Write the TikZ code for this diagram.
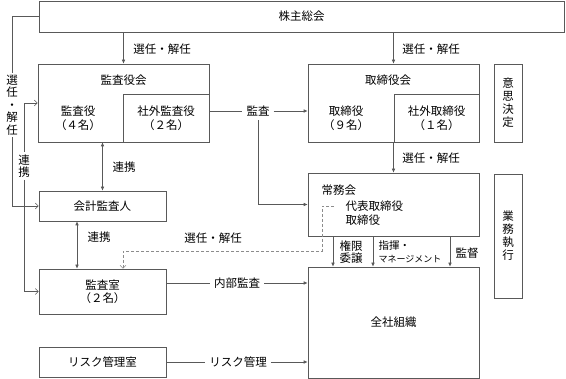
\documentclass[tikz,border=0pt]{standalone}
\usepackage{fontspec}
\newfontfamily\jpfont{Noto Sans CJK JP}
\usetikzlibrary{arrows.meta}
\colorlet{linecol}{black!65}
\tikzset{
  every node/.style={font=\jpfont\fontsize{11.5}{13.5}\selectfont, align=center},
  box/.style={draw=linecol, line width=0.6pt, inner sep=0pt},
  vlabel/.style={font=\jpfont\fontsize{11.5}{12.5}\selectfont, inner sep=2pt},
  hlabel/.style={inner sep=4pt},
  conn/.style={draw=linecol, line width=0.6pt},
  arr/.style={conn, -{Latex[length=4pt,width=3.5pt]}},
  biarr/.style={conn, {Latex[length=4pt,width=3.5pt]}-{Latex[length=4pt,width=3.5pt]}},
  oarr/.style={conn, -{Straight Barb[length=3pt,width=6pt]}},
  darr/.style={draw=black!45, line width=0.6pt, dash pattern=on 3pt off 2pt, -{Straight Barb[length=3pt,width=6pt]}}
}
\begin{document}
\begin{tikzpicture}[x=1pt, y=-1pt]
  \useasboundingbox (0,0) rectangle (566,379);

  % top
  \node[box, minimum width=525pt, minimum height=31pt] (soukai) at (301.5,16.5) {株主総会};

  % board of auditors
  \node[box, minimum width=171pt, minimum height=78pt] (kansakai) at (123.5,103) {};
  \node (kansakaiT) at (123.5,80) {監査役会};
  \node[box, minimum width=86pt, minimum height=48pt] (shagaikansa) at (166,118) {社外監査役\\（２名）};
  \node (kansayaku) at (78,118) {監査役\\（４名）};

  % board of directors
  \node[box, minimum width=171pt, minimum height=78pt] (torikai) at (393.5,103) {};
  \node (torikaiT) at (388,80) {取締役会};
  \node[box, minimum width=85pt, minimum height=48pt] (shagaitori) at (436.5,118) {社外取締役\\（１名）};
  \node (torishimari) at (346,118) {取締役\\（９名）};

  \node[box, vlabel, font=\jpfont\fontsize{11.5}{13}\selectfont, minimum width=28pt, minimum height=78pt] (ishi) at (508,103) {意\\思\\決\\定};

  % executive committee
  \node[box, minimum width=171pt, minimum height=63pt] (joumukai) at (393.5,204.5) {};
  \node[anchor=west] (joumukaiT) at (318,190) {常務会};
  \node[anchor=west, align=left] (joumukaiM) at (342,213) {代表取締役\\取締役};

  \node[box, vlabel, font=\jpfont\fontsize{11.5}{13}\selectfont, minimum width=28pt, minimum height=124pt] (gyomu) at (508,236) {業\\務\\執\\行};

  \node[box, minimum width=171pt, minimum height=111pt] (zensha) at (393.5,322.5) {全社組織};

  % left column
  \node[box, minimum width=127pt, minimum height=30pt] (kaikei) at (102.5,206) {会計監査人};
  \node[box, minimum width=127pt, minimum height=45pt] (kansashitsu) at (102.5,291.5) {監査室\\（２名）};
  \node[box, minimum width=127pt, minimum height=30pt] (risk) at (102.5,362) {リスク管理室};

  % labels
  \node (senninA) at (162,49) {選任・解任};
  \node (senninB) at (431,49) {選任・解任};
  \node (senninC) at (431,158) {選任・解任};
  \node (senninD) at (213,238) {選任・解任};
  \node (renkeiA) at (124,167) {連携};
  \node (renkeiB) at (99,237) {連携};
  \node[anchor=west, align=left, font=\jpfont\fontsize{11.5}{12.5}\selectfont] (kengen) at (336,252) {権限\\委譲};
  \node[anchor=west, align=left, font=\jpfont\fontsize{10.5}{12.5}\selectfont] (shiki) at (375,252) {指揮・\\{\fontsize{9}{12.5}\selectfont マネージメント}};
  \node (kantoku) at (467,253) {監督};
  \node[vlabel] (senninV) at (12,105) {選\\任\\・\\解\\任};
  \node[vlabel] (renkeiV) at (24,166) {連\\携};
  \node[hlabel] (kansa) at (258,111) {監査};
  \node[hlabel] (naibu) at (237,283) {内部監査};
  \node[hlabel] (riskkanri) at (238,362) {リスク管理};

  % connectors
  \draw[arr] (soukai.south -| kansakai.north) -- (kansakai.north);
  \draw[arr] (soukai.south -| torikai.north) -- (torikai.north);
  \draw[arr] (torikai.south) -- (joumukai.north);
  \foreach \dx in {-60.5,-20.5,56.5}
    \draw[arr] ([xshift=\dx pt]joumukai.south) -- ([xshift=\dx pt]zensha.north);

  \draw[conn] (soukai.west) -| (senninV.north);
  \draw[oarr] (senninV.south) |- (kaikei.west);
  \draw[conn, {Straight Barb[length=3pt,width=6pt]}-] (kansakai.west) -| (renkeiV.north);
  \draw[oarr] (renkeiV.south) |- (kansashitsu.west);

  \draw[biarr] (kaikei.north) -- (kaikei.north |- kansakai.south);
  \draw[biarr] ([xshift=-25.5pt]kaikei.south) -- ([xshift=-25.5pt]kansashitsu.north);

  \draw[conn] ([yshift=-8pt]kansakai.east) -- (kansa.west);
  \draw[arr] (kansa.east) -- (kansa.east -| torikai.west);
  \draw[arr] (kansa.south) |- (joumukai.west);

  \coordinate (dstart) at (334,206);
  \draw[darr] (dstart) -| (322,251) -| ([xshift=20.5pt]kansashitsu.north);

  \draw[conn] ([yshift=8.5pt]kansashitsu.east) -- (naibu.west);
  \draw[arr] (naibu.east) -- (naibu.east -| zensha.west);
  \draw[conn] (risk.east) -- (riskkanri.west);
  \draw[arr] (riskkanri.east) -- (riskkanri.east -| zensha.west);
\end{tikzpicture}
\end{document}
